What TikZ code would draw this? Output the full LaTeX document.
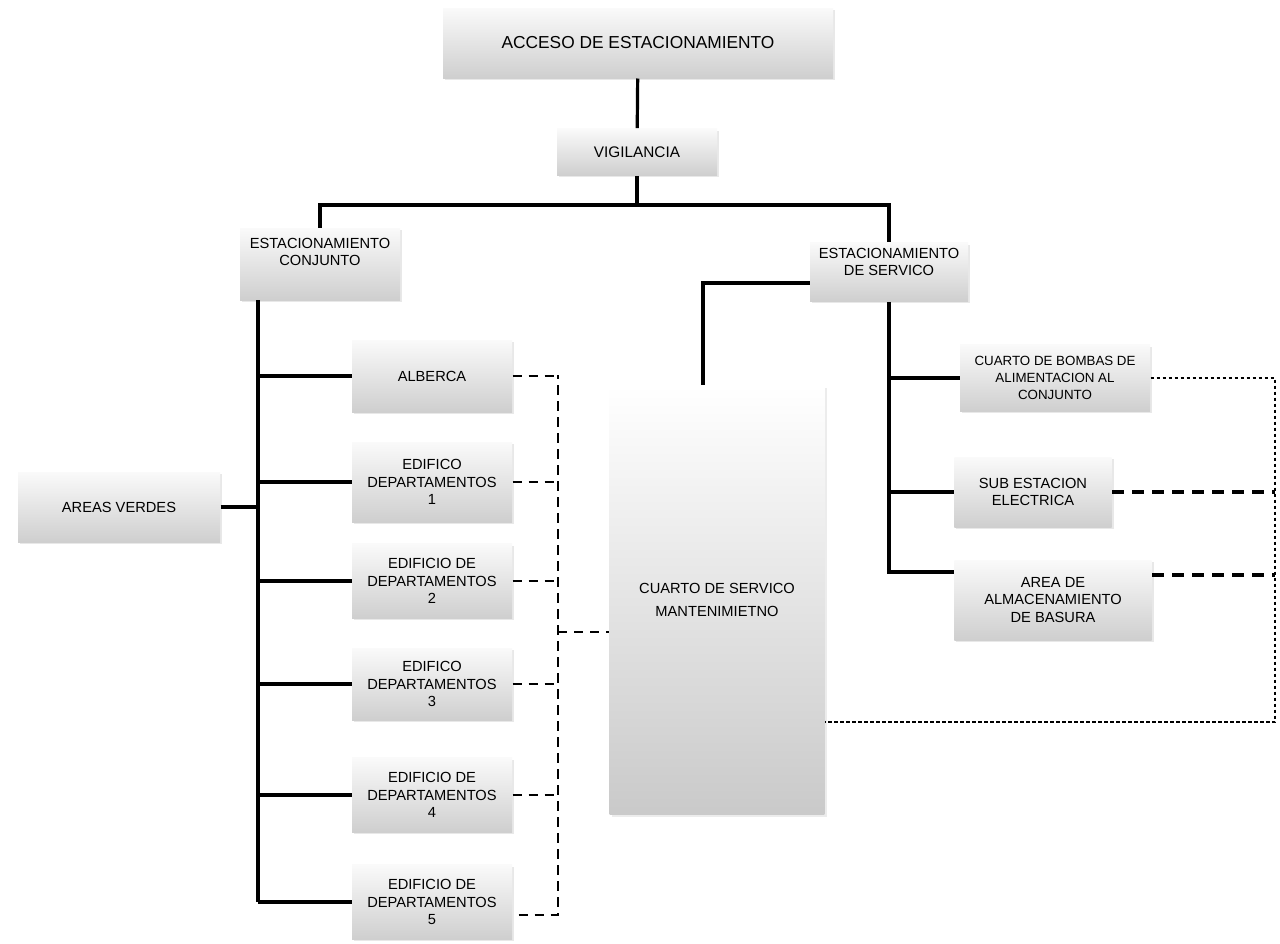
\documentclass[tikz,border=0pt]{standalone}
\usepackage{fontspec}
\setmainfont{Liberation Sans}
\usetikzlibrary{shadows,calc}

\tikzset{every picture/.style={line width=0.75pt}}
\tikzset{
  caja/.style={top color=gray!4, bottom color=gray!38, draw=none, align=center,
    font=\fontsize{11}{13}\selectfont, inner sep=1pt,
    drop shadow={opacity=0.18, shadow xshift=1.5pt, shadow yshift=-1.5pt}},
  alta/.style={top color=white, bottom color=gray!42, draw=none, align=center,
    font=\fontsize{11}{17}\selectfont,
    drop shadow={opacity=0.15, shadow xshift=2pt, shadow yshift=-2pt}},
  liga/.style={line width=2.4pt},
  guion/.style={line width=2.2pt, dash pattern=on 7pt off 5pt},
  guiongrueso/.style={line width=2.3pt, dash pattern=on 9pt off 6pt},
  punteado/.style={line width=0.8pt, dash pattern=on 2.5pt off 2pt}
}

\begin{document}
\begin{tikzpicture}[x=0.75pt,y=0.75pt,yscale=-1,xscale=1]
        \useasboundingbox (0,0) rectangle (1280,943);

        %Boxes
        \node[caja, minimum width=292.5pt, minimum height=52.5pt, font=\fontsize{13}{15}\selectfont] (acceso) at (638,43) {ACCESO DE ESTACIONAMIENTO};
        \node[caja, minimum width=120pt, minimum height=35pt, font=\fontsize{11.5}{13}\selectfont] (vigilancia) at (637,152) {VIGILANCIA};
        \node[caja, minimum width=120pt, minimum height=54pt] (estconj) at (320,264) {ESTACIONAMIENTO\\CONJUNTO\\[5pt]};
        \node[caja, minimum width=118.5pt, minimum height=44pt] (estserv) at (889,272) {ESTACIONAMIENTO\\DE SERVICO\\[2pt]};
        \node[caja, minimum width=151.5pt, minimum height=52.5pt] (areasverdes) at (119,507) {AREAS VERDES};
        \node[caja, minimum width=120pt, minimum height=54pt] (alberca) at (432,376) {ALBERCA};
        \node[caja, minimum width=120pt, minimum height=60pt] (edif1) at (432,482) {EDIFICO\\DEPARTAMENTOS\\1};
        \node[caja, minimum width=120pt, minimum height=56pt] (edif2) at (432,581) {EDIFICIO DE\\DEPARTAMENTOS\\2};
        \node[caja, minimum width=120pt, minimum height=54pt] (edif3) at (432,684) {EDIFICO\\DEPARTAMENTOS\\3};
        \node[caja, minimum width=120pt, minimum height=56pt] (edif4) at (432,795) {EDIFICIO DE\\DEPARTAMENTOS\\4};
        \node[caja, minimum width=120pt, minimum height=56pt] (edif5) at (432,902) {EDIFICIO DE\\DEPARTAMENTOS\\5};
        \node[alta, minimum width=161pt, minimum height=322pt] (cuarto) at (717,600) {CUARTO DE SERVICO\\MANTENIMIETNO};
        \node[caja, minimum width=142.5pt, minimum height=50pt, font=\fontsize{10}{13}\selectfont] (bombas) at (1055,378) {CUARTO DE BOMBAS DE\\ALIMENTACION AL\\CONJUNTO};
        \node[caja, minimum width=118pt, minimum height=52.5pt] (subest) at (1033,492) {SUB ESTACION\\ELECTRICA};
        \node[caja, minimum width=148pt, minimum height=60pt] (basura) at (1053,600) {AREA DE\\ALMACENAMIENTO\\DE BASURA};

        %Solid lines
        \coordinate (barra) at (637,205);
        \coordinate (tronco) at (258,300);
        \draw[liga] (acceso) -- (vigilancia);
        \draw[liga] (vigilancia.south) -- (barra);
        \draw[liga] (estconj.north) -- (estconj.north |- barra) -- (estserv.north |- barra) -- (estserv.north);
        \draw[liga] (tronco) -- (tronco |- edif5.west);
        \draw[liga] (areasverdes.east) -- (areasverdes.east -| tronco);
        \foreach \n in {alberca,edif1,edif2,edif3,edif4,edif5}
            \draw[liga] (tronco |- \n.west) -- (\n.west);
        \coordinate (ramabasura) at ($(basura.west)+(0,-28)$);
        \draw[liga] (estserv.south) -- (estserv.south |- ramabasura) -- (ramabasura);
        \draw[liga] (estserv.south |- bombas.west) -- (bombas.west);
        \draw[liga] (estserv.south |- subest.west) -- (subest.west);
        \draw[liga] ($(estserv.west)+(0,11)$) -| ($(cuarto.north)+(-14,0)$);

        %Dashed lines
        \coordinate (colector) at (558,375);
        \coordinate (remate) at ($(edif5.east)+(6,13)$);
        \foreach \n in {alberca,edif1,edif2,edif3,edif4}
            \draw[guion] (\n.east) -- (\n.east -| colector);
        \draw[guion] (remate) -- (remate -| colector) -- (colector);
        \draw[guion] (colector |- cuarto.west) ++(0,32) -- ($(cuarto.west)+(0,32)$);

        \coordinate (derecha) at (1275,373);
        \coordinate (fondo) at ($(cuarto.east)+(0,122)$);
        \draw[punteado] (bombas.east) -- (bombas.east -| derecha) -- (derecha |- fondo) -- (fondo);
        \draw[guiongrueso] (subest.east) -- (subest.east -| derecha);
        \draw[guiongrueso] ($(basura.east)+(0,-25)$) -- ($(basura.east -| derecha)+(0,-25)$);

\end{tikzpicture}
\end{document}
